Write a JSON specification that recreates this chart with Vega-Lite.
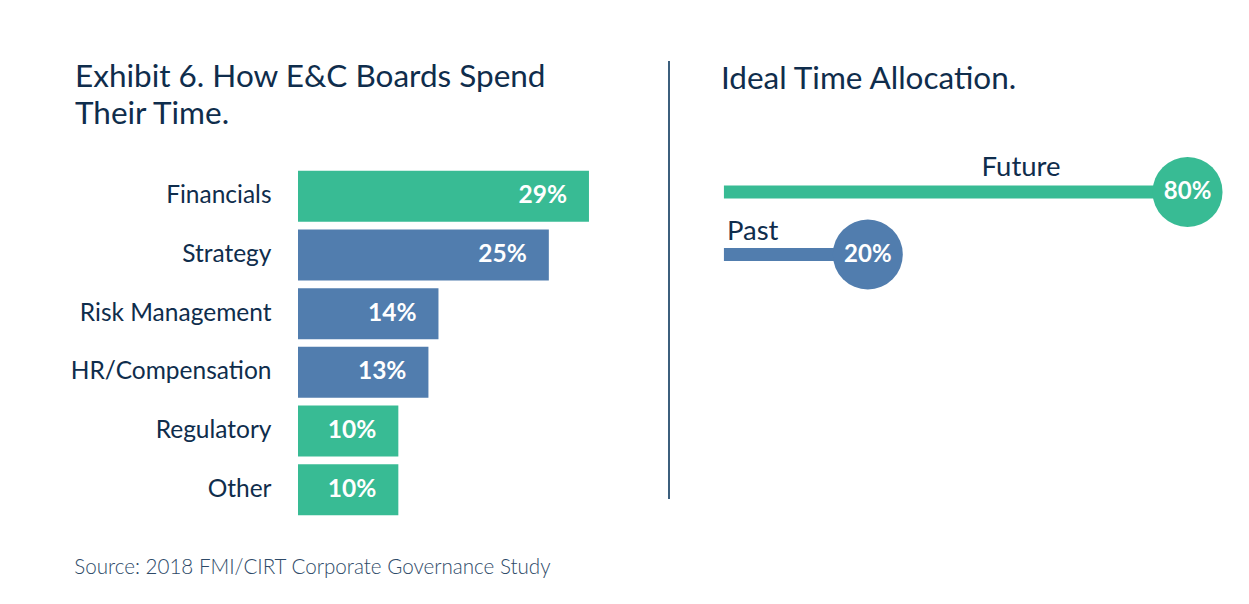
{
  "$schema": "https://vega.github.io/schema/vega-lite/v6.json",
  "background": "white",
  "padding": {"left": 70, "top": 60, "right": 14, "bottom": 17},
  "spacing": 69,
  "title": {
    "text": "Source: 2018 FMI/CIRT Corporate Governance Study",
    "orient": "bottom", "anchor": "start", "frame": "bounds", "dx": 4,
    "font": "Lato", "fontSize": 20.6, "fontWeight": 300, "color": "#2e4a68", "offset": 39
  },
  "resolve": {"scale": {"color": "independent", "x": "independent", "y": "independent"}},
  "hconcat": [
    {
      "width": 301,
      "height": 458,
      "title": {
        "text": ["Exhibit 6. How E&C Boards Spend", "Their Time."],
        "anchor": "start", "frame": "group", "dx": -223, "offset": -69,
        "font": "Lato", "fontSize": 31.5, "fontWeight": "normal", "lineHeight": 36.5, "color": "#0f2d4c"
      },
      "data": {"values": [
        {"category": "Financials", "share": 0.29, "group": "highlight"},
        {"category": "Strategy", "share": 0.25, "group": "base"},
        {"category": "Risk Management", "share": 0.14, "group": "base"},
        {"category": "HR/Compensation", "share": 0.13, "group": "base"},
        {"category": "Regulatory", "share": 0.10, "group": "highlight"},
        {"category": "Other", "share": 0.10, "group": "highlight"}
      ]},
      "encoding": {
        "y": {"field": "category", "type": "nominal", "sort": null,
          "scale": {"paddingInner": 0.13, "paddingOuter": 0.968, "align": 0.9666},
          "axis": {"title": null, "ticks": false, "domain": false, "grid": false,
            "labelFont": "Lato", "labelFontSize": 24.5, "labelColor": "#0f2d4c", "labelPadding": 27, "labelLimit": 400}},
        "x": {"field": "share", "type": "quantitative", "scale": {"domain": [0, 0.3], "nice": false}, "axis": null}
      },
      "layer": [
        {"mark": {"type": "bar"},
         "encoding": {"color": {"field": "group", "type": "nominal",
           "scale": {"domain": ["highlight", "base"], "range": ["#38bb94", "#517dae"]}, "legend": null}}},
        {"mark": {"type": "text", "align": "right", "baseline": "middle", "dx": -22, "color": "white",
           "font": "Lato", "fontSize": 24.5, "fontWeight": "bold"},
         "encoding": {"text": {"field": "share", "type": "quantitative", "format": ".0%"}}}
      ]
    },
    {
      "width": 567,
      "height": 438,
      "title": {
        "text": "Ideal Time Allocation.",
        "anchor": "start", "frame": "group", "dx": 52, "offset": -35,
        "font": "Lato", "fontSize": 31.5, "fontWeight": "normal", "color": "#0f2d4c"
      },
      "data": {"values": [
        {"period": "Future", "share": 0.8},
        {"period": "Past", "share": 0.2}
      ]},
      "encoding": {
        "y": {"field": "period", "type": "nominal", "sort": null,
          "scale": {"type": "point", "padding": 0, "range": [131, 193.5]}, "axis": null},
        "x": {"field": "share", "type": "quantitative",
          "scale": {"type": "pow", "exponent": 0.844, "domain": [-0.0639, 0.9], "nice": false, "zero": false}, "axis": null}
      },
      "layer": [
        {"mark": {"type": "rule", "color": "#2f5575", "strokeWidth": 1.5},
         "encoding": {"x": {"datum": -0.0639, "type": "quantitative"}, "y": null}},
        {"mark": {"type": "rule", "strokeWidth": 13, "strokeCap": "butt"},
         "encoding": {
           "x2": {"datum": 0},
           "color": {"field": "period", "type": "nominal",
             "scale": {"domain": ["Future", "Past"], "range": ["#38bb94", "#517dae"]}, "legend": null}}},
        {"mark": {"type": "circle", "size": 4900, "opacity": 1},
         "encoding": {"color": {"field": "period", "type": "nominal", "legend": null}}},
        {"mark": {"type": "text", "color": "white", "font": "Lato", "fontSize": 24, "fontWeight": "bold", "baseline": "middle"},
         "encoding": {"text": {"field": "share", "type": "quantitative", "format": ".0%"}}},
        {"transform": [{"filter": "datum.period === 'Future'"}],
         "mark": {"type": "text", "align": "right", "baseline": "middle", "dx": -127, "dy": -24,
           "font": "Lato", "fontSize": 27.5, "color": "#0f2d4c"},
         "encoding": {"text": {"field": "period", "type": "nominal"}}},
        {"transform": [{"filter": "datum.period === 'Past'"}],
         "mark": {"type": "text", "align": "left", "baseline": "middle", "dx": 3, "dy": -23,
           "font": "Lato", "fontSize": 27.5, "color": "#0f2d4c"},
         "encoding": {"x": {"datum": 0, "type": "quantitative"},
           "text": {"field": "period", "type": "nominal"}}}
      ]
    }
  ],
  "config": {"view": {"stroke": null}}
}
